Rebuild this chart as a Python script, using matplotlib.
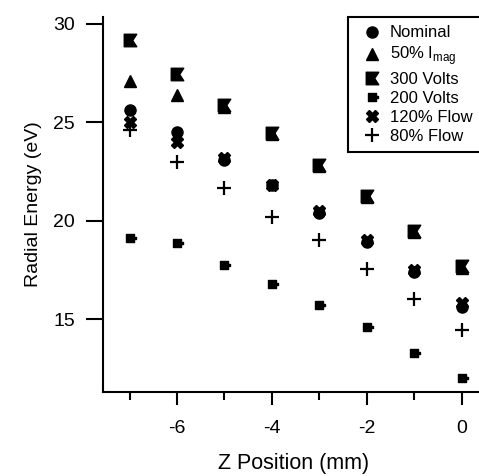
import numpy as np
import matplotlib
matplotlib.use("Agg")
import matplotlib.pyplot as plt
from matplotlib.path import Path
from matplotlib.ticker import MultipleLocator

plt.rcParams['font.family'] = ['Liberation Sans', 'DejaVu Sans']
plt.rcParams['mathtext.fontset'] = 'custom'
plt.rcParams['mathtext.rm'] = 'Liberation Sans'
plt.rcParams['axes.unicode_minus'] = False

z = [-7, -6, -5, -4, -3, -2, -1, 0]
nominal = [25.6, 24.5, 23.1, 21.8, 20.4, 18.9, 17.4, 15.6]
imag50 = [27.1, 26.4, 25.8, 24.4, 22.8, 21.2, 19.4, 17.6]
v300 = [29.2, 27.45, 25.9, 24.45, 22.85, 21.25, 19.45, 17.7]
v200 = [19.1, 18.85, 17.75, 16.8, 15.7, 14.6, 13.25, 12.0]
flow120 = [25.0, 24.0, 23.2, 21.8, 20.5, 19.0, 17.5, 15.8]
flow80 = [24.6, 23.0, 21.65, 20.2, 19.0, 17.55, 16.0, 14.45]

labels = ['Nominal', r'50% I$_{\mathrm{mag}}$', '300 Volts', '200 Volts',
          '120% Flow', '80% Flow']

# custom markers
notch = Path([(-1, -1), (1, -1), (0.35, 0), (1, 1), (-1, 1), (-1, -1)],
             [Path.MOVETO, Path.LINETO, Path.LINETO, Path.LINETO, Path.LINETO, Path.CLOSEPOLY])

def hole(cx, cy, s):
    return [(cx - s, cy - s), (cx - s, cy + s), (cx + s, cy + s), (cx + s, cy - s), (cx - s, cy - s)]

outer = [(-1, -1), (1, -1), (1, -0.2), (1.35, -0.2), (1.35, 0.2), (1, 0.2), (1, 1), (-1, 1), (-1, -1)]
verts = outer[:]
codes = [Path.MOVETO] + [Path.LINETO] * (len(outer) - 2) + [Path.CLOSEPOLY]
for cx, cy in [(-0.4, 0.4), (0.4, 0.4), (-0.4, -0.4), (0.4, -0.4)]:
    h = hole(cx, cy, 0.17)
    verts += h
    codes += [Path.MOVETO, Path.LINETO, Path.LINETO, Path.LINETO, Path.CLOSEPOLY]
window = Path(verts, codes)

fig = plt.figure(figsize=(4.79, 4.76), dpi=100)
ax = fig.add_axes([103 / 479, 1 - 392 / 476, 1 - 103 / 479 + 0.01, (392 - 17) / 476])

k = dict(linestyle='none', color='black')
ax.plot(z, nominal, marker='o', markersize=8, label=labels[0], **k)
ax.plot(z, imag50, marker='^', markersize=8.5, label=labels[1], **k)
ax.plot(z, v300, marker=notch, markersize=9, label=labels[2], **k)
ax.plot(z, v200, marker=window, markersize=8, label=labels[3], **k)
ax.plot(z, flow120, marker='X', markersize=9, label=labels[4], **k)
ax.plot(z, flow80, marker='+', markersize=9.5, markeredgewidth=1.6, label=labels[5], **k)

ax.set_xlim(-7.56, 0.47)
ax.set_ylim(11.29, 30.35)
ax.set_xticks([-6, -4, -2, 0])
ax.xaxis.set_minor_locator(MultipleLocator(1))
ax.set_yticks([15, 20, 25, 30])
ax.tick_params(axis='x', which='major', direction='out', length=9.5, width=1.5, labelsize=14, pad=11)
ax.tick_params(axis='x', which='minor', direction='out', length=6, width=1.5)
ax.tick_params(axis='y', which='major', direction='out', length=12, width=1.5, labelsize=14, pad=8)
ax.spines['top'].set_visible(False)
ax.spines['right'].set_visible(False)
ax.spines['left'].set_linewidth(1.5)
ax.spines['bottom'].set_linewidth(1.5)
ax.set_xlabel('Z Position (mm)', fontsize=15.5, labelpad=11)
ax.set_ylabel('Radial Energy (eV)', fontsize=14, labelpad=8)

leg = ax.legend(loc='upper left', bbox_to_anchor=(348 / 479, 1 - 17 / 476),
                bbox_transform=fig.transFigure, borderaxespad=0, frameon=True,
                fancybox=False, edgecolor='black', fontsize=12, handletextpad=0.1,
                handlelength=1.9, labelspacing=0.25, borderpad=0.5, framealpha=1)
leg.get_frame().set_linewidth(1.5)

fig.savefig('out.png', dpi=100)
